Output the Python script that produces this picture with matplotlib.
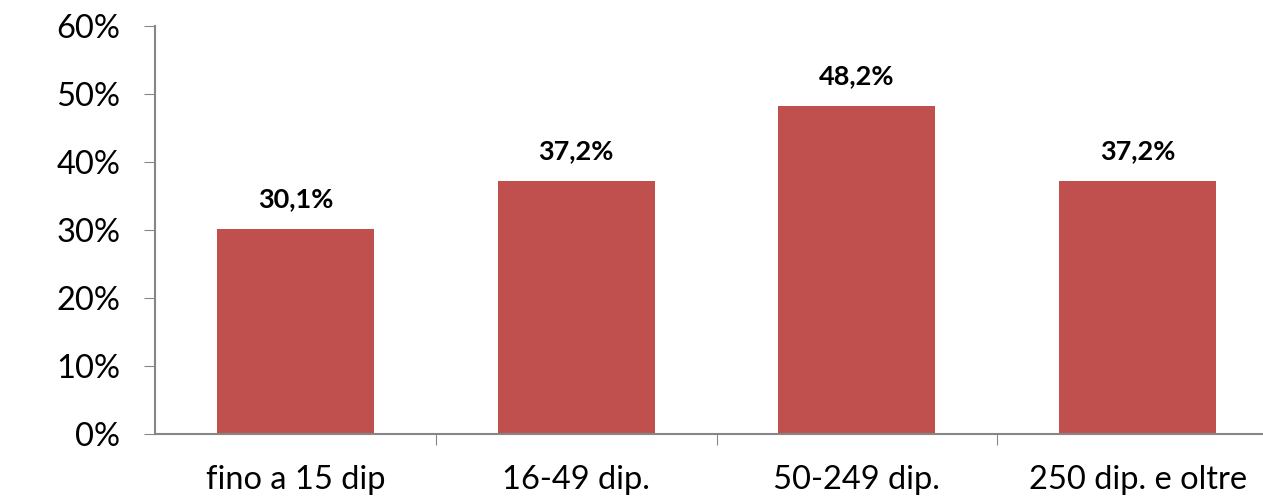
import matplotlib
matplotlib.use("Agg")
import matplotlib.pyplot as plt
from matplotlib.ticker import FuncFormatter, MultipleLocator

categories = ["fino a 15 dip", "16-49 dip.", "50-249 dip.", "250 dip. e oltre"]
values = [30.1, 37.2, 48.2, 37.2]
labels = ["30,1%", "37,2%", "48,2%", "37,2%"]

plt.rcParams['font.family'] = ['Lato', 'DejaVu Sans']

fig = plt.figure(figsize=(12.63, 4.99), dpi=100)
ax = fig.add_axes([155/1263, 65/499, 1123/1263, 408/499])

x = list(range(len(categories)))
ax.bar(x, values, width=0.56, color="#C0504D")
for xi, v, lab in zip(x, values, labels):
    ax.text(xi, v + 4.4, lab, ha="center", va="center", fontsize=19.5, fontweight="bold", color="black")

ax.set_xlim(-0.5, 3.5)
ax.set_ylim(0, 60)
ax.yaxis.set_major_locator(MultipleLocator(10))
ax.yaxis.set_major_formatter(FuncFormatter(lambda v, p: f"{int(round(v))}%"))
ax.set_xticks([0.5, 1.5, 2.5])
ax.set_xticklabels([])
ax.set_xticks(x, minor=True)
ax.set_xticklabels(categories, minor=True)
ax.tick_params(axis="x", which="minor", length=0, pad=22, labelsize=23.5)
ax.tick_params(axis="x", which="major", length=8, color="#868686", direction="out")
ax.tick_params(axis="y", length=8, color="#868686", labelsize=23.5, pad=17)

for s in ["top", "right"]:
    ax.spines[s].set_visible(False)
for s in ["left", "bottom"]:
    ax.spines[s].set_color("#868686")
    ax.spines[s].set_linewidth(1.5)

fig.savefig("out.png", dpi=100)
